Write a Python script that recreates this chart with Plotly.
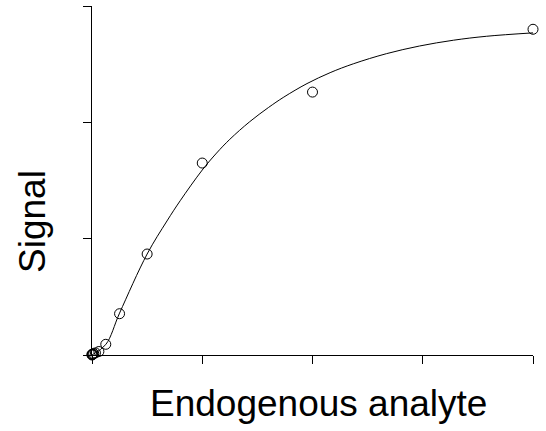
import plotly.graph_objects as go

# Standard concentrations (serial dilution) and measured signal
conc = [0, 0, 0.0039, 0.0078, 0.0156, 0.03125, 0.0625, 0.125, 0.25, 0.5, 1, 2, 4]
signal = [0.0, 0.006, 0.004, 0.008, 0.012, 0.018, 0.03, 0.092, 0.355, 0.868, 1.65, 2.26, 2.80]

# Fitted calibration curve
fit_x = [0, 0.125, 0.25, 0.5, 0.68, 0.8, 1.0, 1.13, 1.25, 1.43, 1.6, 1.74, 1.95,
         2.16, 2.37, 2.67, 2.97, 3.28, 3.58, 4.0]
fit_y = [0, 0.09, 0.36, 0.868, 1.152, 1.326, 1.59, 1.736, 1.854, 2.005, 2.127,
         2.217, 2.333, 2.427, 2.503, 2.59, 2.656, 2.706, 2.74, 2.769]

x_ticks = [0, 1, 2, 3, 4]
y_ticks = [0, 1, 2, 3]

fig = go.Figure()
fig.add_trace(go.Scatter(
    x=fit_x, y=fit_y, mode="lines", line=dict(color="black", width=1, shape="spline"),
    hoverinfo="skip", showlegend=False,
))
fig.add_trace(go.Scatter(
    x=conc, y=signal, mode="markers", cliponaxis=False,
    marker=dict(symbol="circle-open", size=10, color="black", line=dict(width=1)),
    showlegend=False,
))

axis_common = dict(
    showgrid=False, zeroline=False, showline=True, linecolor="black", linewidth=1,
    ticks="outside", ticklen=8, tickwidth=1, tickcolor="black",
    showticklabels=False,
)
fig.update_xaxes(range=[0, 4], tickvals=x_ticks, **axis_common)
fig.update_yaxes(range=[0, 3], tickvals=y_ticks, **axis_common)

font = dict(family="Liberation Sans, Arial, sans-serif", size=37, color="black")
fig.add_annotation(text="Endogenous analyte", xref="paper", yref="paper",
                   x=0.5125, y=-0.14, xanchor="center", yanchor="middle",
                   showarrow=False, font=font)
fig.add_annotation(text="Signal", xref="paper", yref="paper", textangle=-90,
                   x=-0.1338, y=0.384, xanchor="center", yanchor="middle",
                   showarrow=False, font=font)

fig.update_layout(
    width=546, height=431,
    margin=dict(l=92, r=13, t=6, b=76),
    paper_bgcolor="white", plot_bgcolor="white",
)
fig.write_html("out.html")
